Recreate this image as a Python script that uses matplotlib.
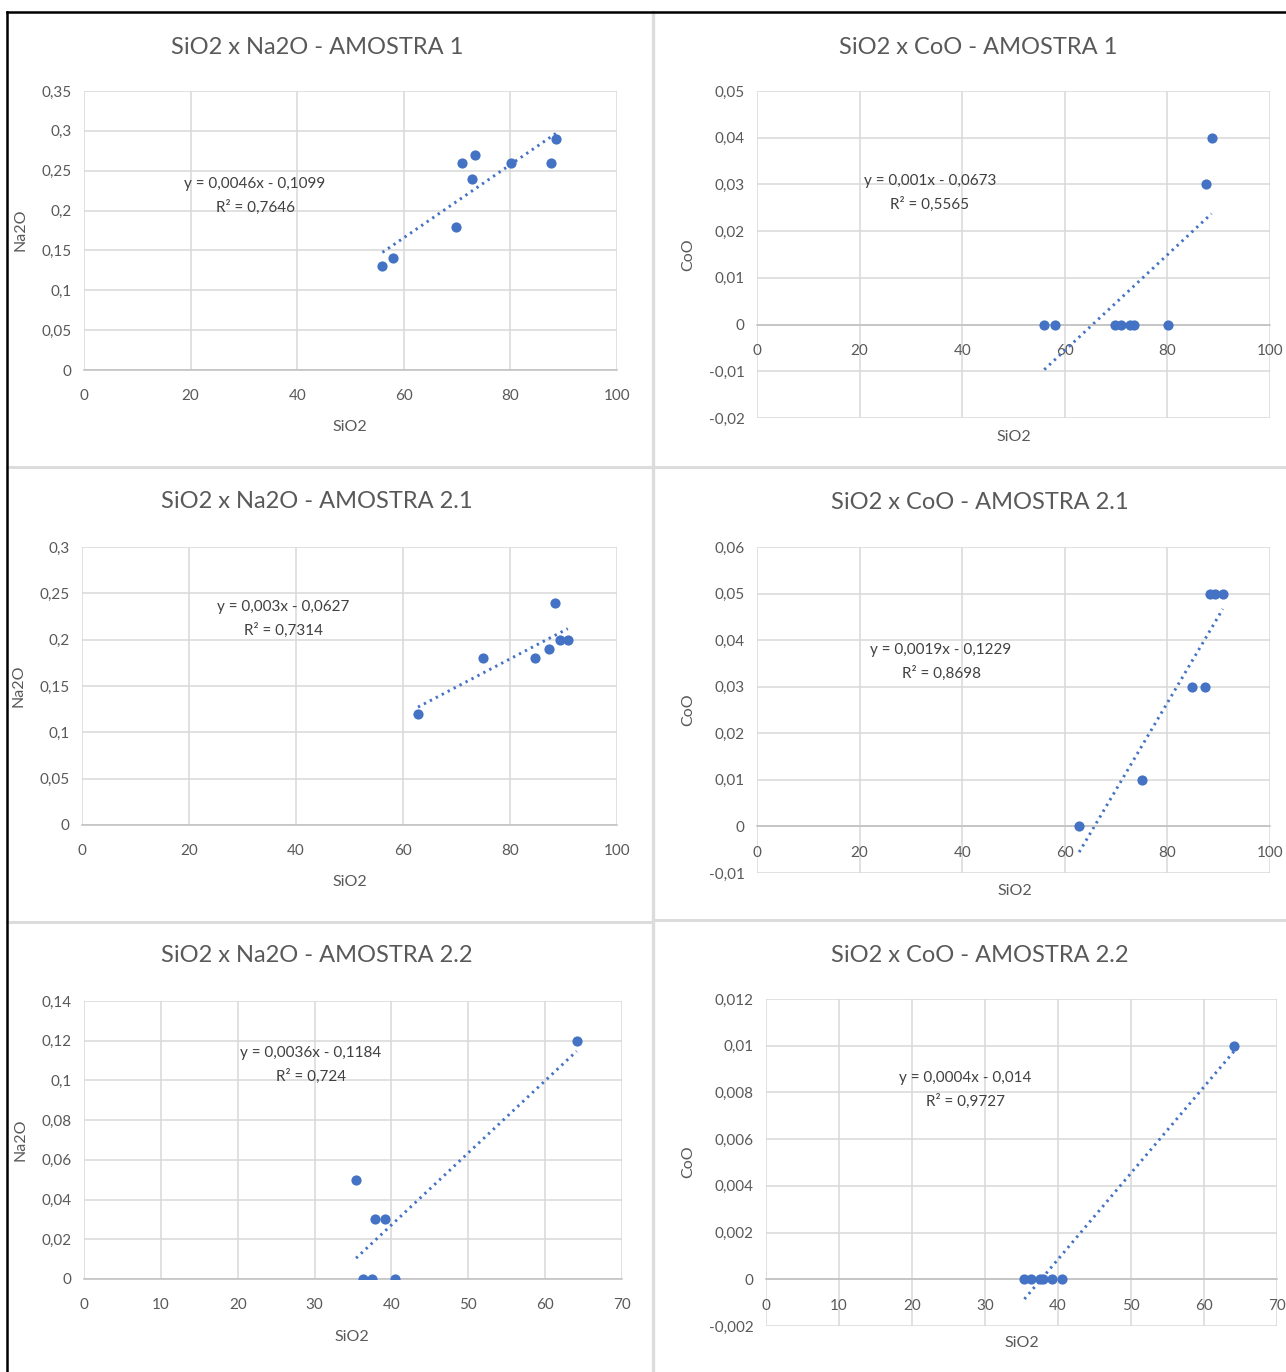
import numpy as np
import matplotlib
matplotlib.use("Agg")
import matplotlib.pyplot as plt
from matplotlib.lines import Line2D
from matplotlib.ticker import MultipleLocator, FuncFormatter

# ============================================================
# DATA
# ============================================================

sio2_a1 = [56.0, 58.0, 69.7, 70.9, 72.8, 73.4, 80.1, 87.6, 88.6]
na2o_a1 = [0.13, 0.14, 0.18, 0.26, 0.24, 0.27, 0.26, 0.26, 0.29]
coo_a1 = [0, 0, 0, 0, 0, 0, 0, 0.03, 0.04]

sio2_a21 = [62.8, 75.0, 84.7, 87.3, 88.4, 89.3, 90.8]
na2o_a21 = [0.12, 0.18, 0.18, 0.19, 0.24, 0.20, 0.20]
coo_a21 = [0, 0.01, 0.03, 0.03, 0.05, 0.05, 0.05]

sio2_a22 = [35.4, 36.3, 37.5, 37.9, 39.2, 40.5, 64.1]
na2o_a22 = [0.05, 0, 0, 0.03, 0.03, 0, 0.12]
coo_a22 = [0, 0, 0, 0, 0, 0, 0.01]

eq_text = {
    "na_a1": ("y = 0,0046x - 0,1099", "R² = 0,7646"),
    "co_a1": ("y = 0,001x - 0,0673", "R² = 0,5565"),
    "na_a21": ("y = 0,003x - 0,0627", "R² = 0,7314"),
    "co_a21": ("y = 0,0019x - 0,1229", "R² = 0,8698"),
    "na_a22": ("y = 0,0036x - 0,1184", "R² = 0,724"),
    "co_a22": ("y = 0,0004x - 0,014", "R² = 0,9727"),
}

# ============================================================
# STYLE
# ============================================================

W, H = 1286, 1372
plt.rcParams['font.family'] = ['Lato', 'DejaVu Sans']

BLUE = "#4472C4"
TXT = "#595959"
EQ = "#404040"
GRID = "#D9D9D9"
AXLINE = "#BFBFBF"

fig = plt.figure(figsize=(W / 100, H / 100), dpi=100)
fig.patch.set_facecolor("white")


def fx(px):
    return px / W


def fy(py):
    return 1 - py / H


def fmt(v, pos):
    v = round(v, 6) + 0.0
    if v == 0:
        return "0"
    return f"{v:g}".replace(".", ",")


def panel(box, x, y, xmax, xstep, ylim, ystep, title, title_xy, xlab_xy,
          ylab, ylab_xy, eq, eq_xy):
    l, t, r, b = box
    ax = fig.add_axes([fx(l), fy(b), (r - l) / W, (b - t) / H])
    ax.set_xlim(0, xmax)
    ax.set_ylim(*ylim)
    ax.xaxis.set_major_locator(MultipleLocator(xstep))
    ax.yaxis.set_major_locator(MultipleLocator(ystep))
    ax.xaxis.set_major_formatter(FuncFormatter(fmt))
    ax.yaxis.set_major_formatter(FuncFormatter(fmt))
    ax.grid(True, color=GRID, linewidth=1.1, zorder=0)
    ax.set_axisbelow(True)
    for s in ["top", "right", "left"]:
        ax.spines[s].set_visible(False)
    # Excel-style horizontal axis crossing at y = 0
    ax.spines["bottom"].set_position(("data", 0))
    ax.spines["bottom"].set_color(AXLINE)
    ax.spines["bottom"].set_linewidth(1.1)
    ax.tick_params(length=0, labelsize=11, colors=TXT, pad=9)
    ax.tick_params(axis="x", pad=14)

    ax.scatter(x, y, s=54, color=BLUE, zorder=3, linewidths=0)

    # linear trendline
    k, c = np.polyfit(x, y, 1)
    xs = np.array([min(x), max(x)])
    ax.plot(xs, k * xs + c, color=BLUE, linewidth=2.1,
            linestyle=(0, (0.8, 1.5)), zorder=2)

    fig.text(fx(title_xy[0]), fy(title_xy[1]), title, ha="center", va="center",
             fontsize=17, color=TXT)
    fig.text(fx(xlab_xy[0]), fy(xlab_xy[1]), "SiO2", ha="center", va="center",
             fontsize=11.5, color=TXT)
    fig.text(fx(ylab_xy[0]), fy(ylab_xy[1]), ylab, ha="center", va="center",
             fontsize=11.5, color=TXT, rotation=90)
    fig.text(fx(eq_xy[0]), fy(eq_xy[1]), eq[0], ha="center", va="center",
             fontsize=11, color=EQ)
    fig.text(fx(eq_xy[0]), fy(eq_xy[1] + 23), eq[1], ha="center", va="center",
             fontsize=11, color=EQ)
    return ax


panel((84, 91, 617, 370), sio2_a1, na2o_a1, 100, 20, (0, 0.35), 0.05,
      "SiO2 x Na2O - AMOSTRA 1", (317, 47), (350, 427), "Na2O", (20, 230),
      eq_text["na_a1"], (255, 184))
panel((757, 91, 1270, 418), sio2_a1, coo_a1, 100, 20, (-0.02, 0.05), 0.01,
      "SiO2 x CoO - AMOSTRA 1", (978, 47), (1014, 437), "CoO", (688, 255),
      eq_text["co_a1"], (930, 181))
panel((82, 547, 617, 825), sio2_a21, na2o_a21, 100, 20, (0, 0.3), 0.05,
      "SiO2 x Na2O - AMOSTRA 2.1", (317, 502), (350, 882), "Na2O", (18, 686),
      eq_text["na_a21"], (283, 607))
panel((757, 547, 1270, 873), sio2_a21, coo_a21, 100, 20, (-0.01, 0.06), 0.01,
      "SiO2 x CoO - AMOSTRA 2.1", (980, 503), (1015, 891), "CoO", (688, 710),
      eq_text["co_a21"], (941, 650))
panel((84, 1001, 622, 1279), sio2_a22, na2o_a22, 70, 10, (0, 0.14), 0.02,
      "SiO2 x Na2O - AMOSTRA 2.2", (317, 956), (352, 1337), "Na2O", (20, 1140),
      eq_text["na_a22"], (311, 1053))
panel((766, 999, 1277, 1326), sio2_a22, coo_a22, 70, 10, (-0.002, 0.012), 0.002,
      "SiO2 x CoO - AMOSTRA 2.2", (980, 956), (1022, 1343), "CoO", (688, 1162),
      eq_text["co_a22"], (965, 1078))

# ============================================================
# SHEET FRAME + SEPARATORS
# ============================================================

def fig_line(x0, y0, x1, y1, color, lw):
    fig.add_artist(Line2D([fx(x0), fx(x1)], [fy(y0), fy(y1)],
                          transform=fig.transFigure, color=color, linewidth=lw))


fig_line(653, 12, 653, H, "#DCDCDC", 2.4)
fig_line(7, 467.5, 653, 467.5, "#DCDCDC", 2.2)
fig_line(653, 467.5, W, 467.5, "#DCDCDC", 2.2)
fig_line(7, 922, 653, 922, "#DCDCDC", 2.2)
fig_line(653, 920, W, 920, "#DCDCDC", 2.2)
fig_line(7, 12, W, 12, "black", 1.8)
fig_line(7, 12, 7, H, "black", 1.8)

fig.savefig("out.png", dpi=100, facecolor="white")
